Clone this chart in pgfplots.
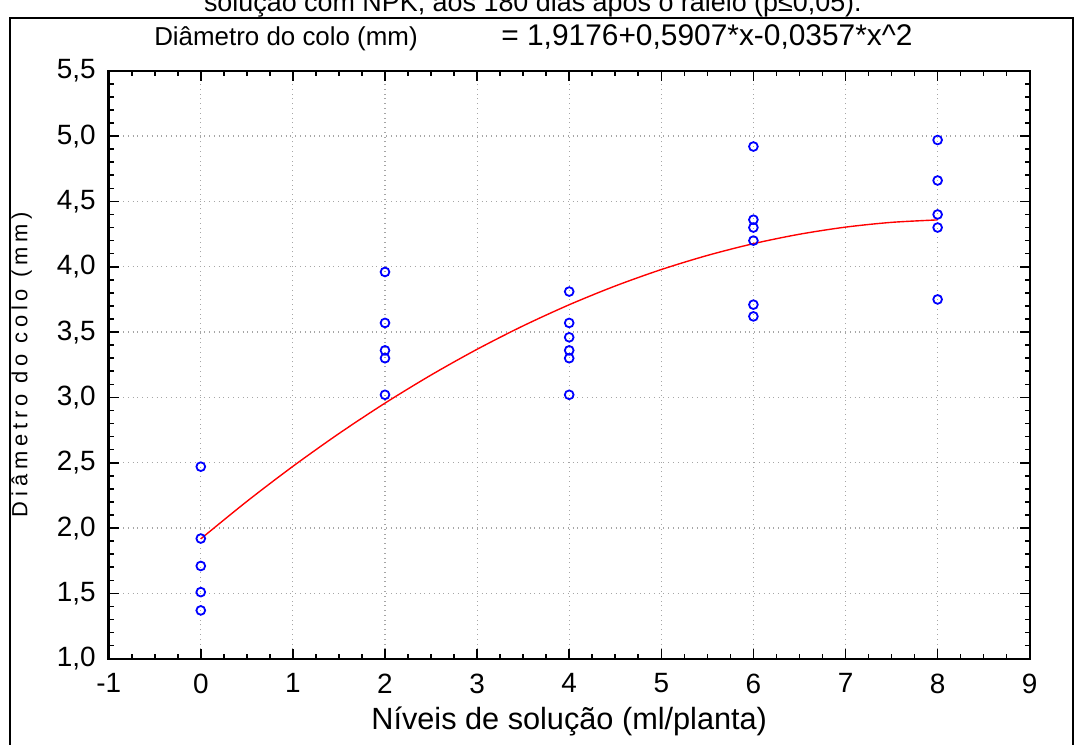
\documentclass[border=0pt]{standalone}
\usepackage{fontspec}
\setmainfont{Liberation Sans}
\newfontfamily\spaced[LetterSpace=22]{Liberation Sans}
\usepackage{pgfplots}
\pgfplotsset{compat=1.18}

\begin{document}
\begin{tikzpicture}[x=0.5bp,y=0.5bp]
  % page frame: 1075 x 745 px, 1 px = 0.5bp
  \node[anchor=west,font=\fontsize{13.5}{15}\selectfont] at (197,741) {solução com NPK, aos 180 dias após o raleio (p≤0,05).};
  \draw[line width=1pt] (10,0) -- (10,727) -- (1073,727) -- (1073,0);
  \node[font=\fontsize{13}{15}\selectfont] at (286,706) {Diâmetro do colo (mm)};
  \node[font=\fontsize{15}{17}\selectfont] at (707,708) {= 1,9176+0,5907*x-0,0357*x\^{}2};

  \begin{axis}[
    at={(118,66)}, anchor=south west,
    scale only axis, width=460.5bp, height=294bp,
    xmin=-1, xmax=9, ymin=1, ymax=5.5,
    xtick={-1,0,...,9},
    ytick={1,1.5,...,5.5},
    minor x tick num=3,
    minor y tick num=4,
    tick align=inside,
    major tick length=5pt, minor tick length=2.5pt,
    every tick/.style={black, line width=0.8pt},
    axis line style={black, line width=1.2pt},
    grid=major,
    major grid style={gray!70, dotted, line width=0.6pt},
    /pgf/number format/assume math mode=true,
    /pgf/number format/use comma,
    yticklabel style={/pgf/number format/fixed, /pgf/number format/fixed zerofill, /pgf/number format/precision=1, xshift=-3pt},
    xticklabel style={yshift=-4pt},
    ticklabel style={font=\fontsize{14}{16}\selectfont},
    xlabel={Níveis de solução (ml/planta)},
    ylabel={\spaced Diâmetro do colo (mm)},
    xlabel style={font=\fontsize{15.4}{17}\selectfont},
    ylabel style={font=\fontsize{11}{13}\selectfont, at={(axis description cs:-0.0945,0.5)}, anchor=center},
    clip=false,
  ]
  \addplot[red, line width=0.7pt, smooth] coordinates {
    (0,1.9176) (0.5,2.2040) (1,2.4726) (1.5,2.7233) (2,2.9562)
    (2.5,3.1712) (3,3.3684) (3.5,3.5477) (4,3.7092) (4.5,3.8528)
    (5,3.9786) (5.5,4.0865) (6,4.1766) (6.5,4.2488) (7,4.3032)
    (7.5,4.3397) (8,4.3584)};
  \addplot[only marks, mark=o, mark size=2.2pt, blue, mark options={line width=0.9pt}] coordinates {
    (0,1.37) (0,1.51) (0,1.71) (0,1.92) (0,2.47)
    (2,3.02) (2,3.30) (2,3.36) (2,3.57) (2,3.96)
    (4,3.02) (4,3.30) (4,3.36) (4,3.46) (4,3.57) (4,3.81)
    (6,3.62) (6,3.71) (6,4.20) (6,4.30) (6,4.36) (6,4.92)
    (8,3.75) (8,4.30) (8,4.40) (8,4.66) (8,4.97)};
  \end{axis}
  \pgfresetboundingbox
  \path[use as bounding box] (0,0) rectangle (1075,745);
\end{tikzpicture}
\end{document}
